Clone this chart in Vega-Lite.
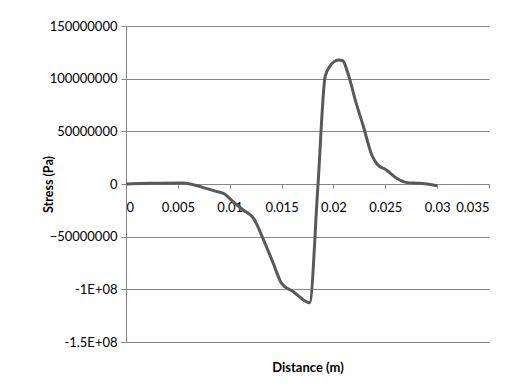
{
  "$schema": "https://vega.github.io/schema/vega-lite/v6.json",
  "width": 363,
  "height": 316,
  "autosize": {"type": "none"},
  "padding": {"left": 126, "top": 26, "right": 25, "bottom": 45},
  "background": "white",
  "config": {
    "view": {"stroke": null},
    "font": "Lato",
    "axis": {"labelFont": "Lato", "titleFont": "Lato", "labelColor": "#000000", "titleColor": "#000000"}
  },
  "data": {
    "values": [
      {"distance": 0, "stress": 0},
      {"distance": 0.0023, "stress": 600000},
      {"distance": 0.0055, "stress": 1000000},
      {"distance": 0.0062, "stress": 0},
      {"distance": 0.0078, "stress": -4400000},
      {"distance": 0.0087, "stress": -7000000},
      {"distance": 0.0095, "stress": -9500000},
      {"distance": 0.0103, "stress": -16500000},
      {"distance": 0.0113, "stress": -24700000},
      {"distance": 0.0123, "stress": -32600000},
      {"distance": 0.0132, "stress": -51600000},
      {"distance": 0.0142, "stress": -75300000},
      {"distance": 0.015, "stress": -94300000},
      {"distance": 0.0161, "stress": -102000000},
      {"distance": 0.0177, "stress": -112700000},
      {"distance": 0.0185, "stress": -2500000},
      {"distance": 0.0192, "stress": 102000000},
      {"distance": 0.0196, "stress": 111000000},
      {"distance": 0.0205, "stress": 117700000},
      {"distance": 0.0209, "stress": 117000000},
      {"distance": 0.0214, "stress": 105000000},
      {"distance": 0.0222, "stress": 76600000},
      {"distance": 0.0229, "stress": 54400000},
      {"distance": 0.0237, "stress": 27500000},
      {"distance": 0.0242, "stress": 19000000},
      {"distance": 0.0251, "stress": 13300000},
      {"distance": 0.0261, "stress": 5400000},
      {"distance": 0.0271, "stress": 1300000},
      {"distance": 0.0283, "stress": 600000},
      {"distance": 0.03, "stress": -1600000}
    ]
  },
  "mark": {"type": "line", "color": "#595959", "strokeWidth": 3, "interpolate": "monotone"},
  "encoding": {
    "x": {
      "field": "distance",
      "type": "quantitative",
      "scale": {"domain": [0, 0.035], "nice": false, "zero": false},
      "axis": {
        "title": "Distance (m)",
        "offset": -158,
        "values": [0, 0.005, 0.01, 0.015, 0.02, 0.025, 0.03, 0.035],
        "labelExpr": "datum.value == 0 ? '0' : format(datum.value, '.3~f')",
        "grid": false,
        "domainColor": "#868686",
        "tickColor": "#868686",
        "tickSize": 4,
        "labelPadding": 13,
        "labelFontSize": 13,
        "labelBaseline": "top",
        "titleFontSize": 13,
        "titleFontWeight": "bold",
        "titleY": 183,
        "titleBaseline": "middle"
      }
    },
    "y": {
      "field": "stress",
      "type": "quantitative",
      "scale": {"domain": [-150000000, 150000000], "nice": false},
      "axis": {
        "title": "Stress (Pa)",
        "values": [-150000000, -100000000, -50000000, 0, 50000000, 100000000, 150000000],
        "labelExpr": "datum.value == -100000000 ? '-1E+08' : datum.value == -150000000 ? '-1.5E+08' : format(datum.value, 'd')",
        "grid": true,
        "gridColor": "#868686",
        "gridWidth": 1,
        "domainColor": "#868686",
        "tickColor": "#868686",
        "tickSize": 5,
        "labelPadding": 4,
        "labelFontSize": 13,
        "titleFontSize": 12.5,
        "titleFontWeight": "bold",
        "titleX": -78,
        "titleBaseline": "middle"
      }
    }
  }
}
